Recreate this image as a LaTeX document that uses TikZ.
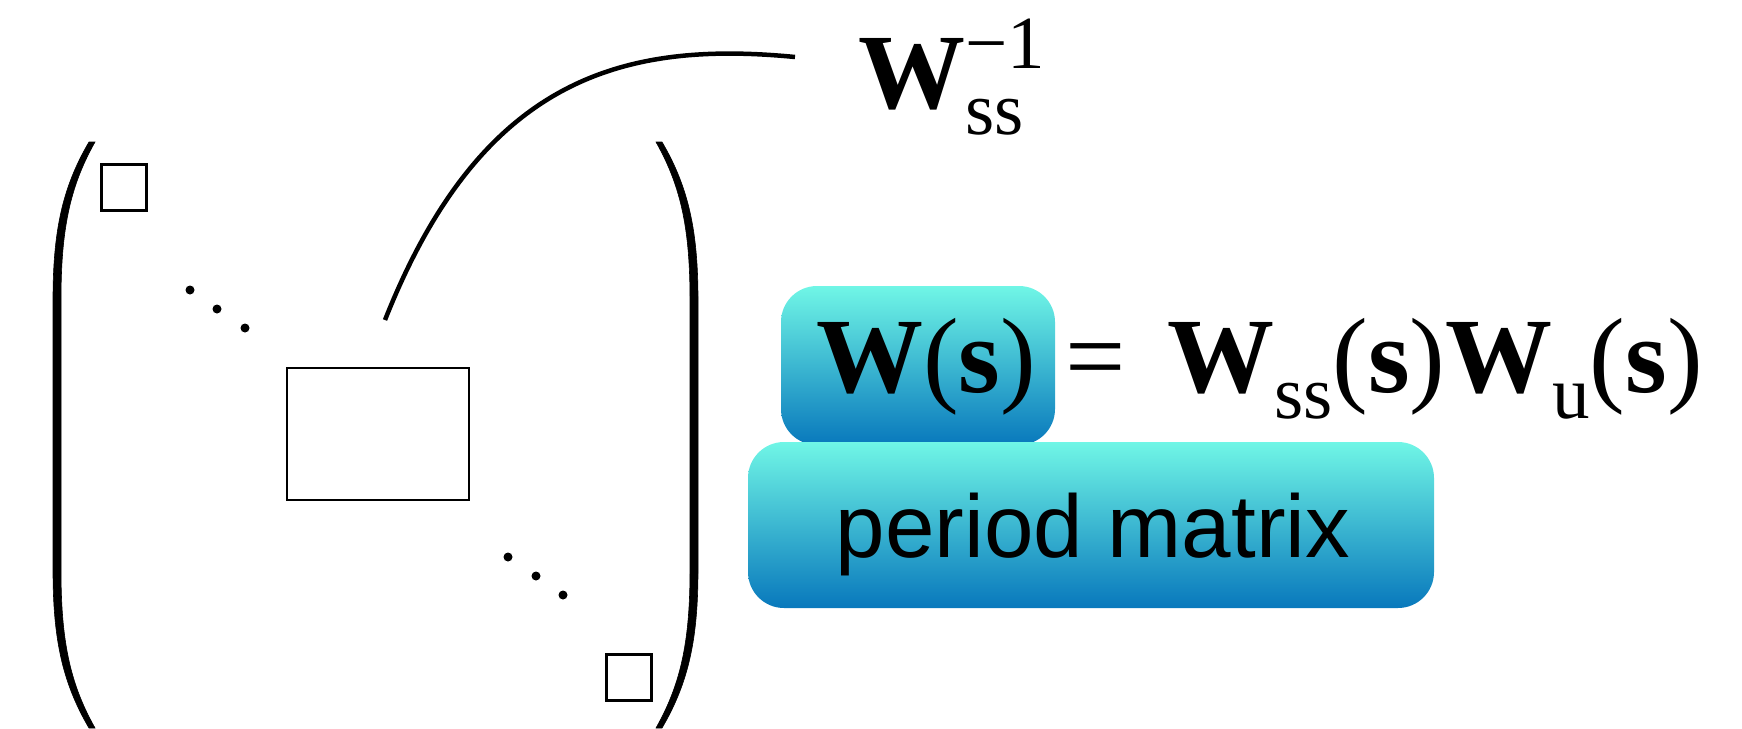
\documentclass[tikz,border=0pt]{standalone}
\usepackage{fontspec}
\setmainfont{Liberation Serif}
\newfontfamily\sansf{Liberation Sans}
\definecolor{boxtop}{RGB}{112,246,230}
\definecolor{boxbot}{RGB}{8,120,188}
\newcommand\Wb{\textbf{W}}
\newcommand\Bs{\textbf{s}}
\newcommand\mysub[1]{\raisebox{-26pt}{\fontsize{75}{75}\selectfont #1}}
\newcommand\mysupr[1]{\rlap{\raisebox{40pt}{\fontsize{75}{75}\selectfont #1}}}
\begin{document}
\begin{tikzpicture}[x=1pt,y=-1pt,
  paren/.style={fill=black, draw=black, line width=0.6pt},
  conn/.style={line width=4.5pt},
  sqbox/.style={line width=3pt},
  midbox/.style={line width=2.5pt},
  dotc/.style={fill=black},
  cbox/.style={rounded corners=36pt, top color=boxtop, bottom color=boxbot, draw=none, inner sep=0pt},
  eq/.style={inner sep=0pt, anchor=base west, font=\fontsize{107}{110}\selectfont},
  lab/.style={inner sep=0pt, anchor=base, font=\sansf\fontsize{89}{90}\selectfont}]
\useasboundingbox (0,0) rectangle (1742,728);
% matrix brackets (thicker in the middle)
\path[paren] (89,142) .. controls (62,188) and (53,232) .. (53,300) -- (53,570)
  .. controls (53,638) and (62,682) .. (89,728) -- (95,728)
  .. controls (69,682) and (61,638) .. (61,570) -- (61,300)
  .. controls (61,232) and (69,188) .. (95,142) -- cycle;
\path[paren] (662,142) .. controls (689,188) and (698,232) .. (698,300) -- (698,570)
  .. controls (698,638) and (689,682) .. (662,728) -- (656,728)
  .. controls (682,682) and (690,638) .. (690,570) -- (690,300)
  .. controls (690,232) and (682,188) .. (656,142) -- cycle;
% blocks
\draw[sqbox] (101,164) rectangle (146,210);
\draw[sqbox] (606,654) rectangle (651,700);
\draw[midbox] (287,368) rectangle (469,500);
% dots
\foreach \p in {(190,290),(217,309),(245,328),(508,557),(536,576),(563,595)}
  \fill[dotc] \p circle (4.5);
% connector
\coordinate (cs) at (385,320);
\coordinate (ce) at (795,57);
\draw[conn] (cs) .. controls (480,80) and (620,40) .. (ce);
% label
\node[eq] (wlab) at (858,108) {\Wb\mysupr{−1}\mysub{ss}};
% boxes
\node[cbox, minimum width=274pt, minimum height=159pt] (topbox) at (918,365.5) {};
\node[cbox, minimum width=686pt, minimum height=166pt] (botbox) at (1091,525) {};
\node[lab] (pm) at (1093,557) {period matrix};
% equation
\node[eq] (lhs) at (816,392) {\Wb(\Bs)};
\node[eq] (eqs) at (1065,392) {=};
\node[eq] (rhs) at (1167,392) {\Wb\mysub{ss}(\Bs)\Wb\mysub{u}(\Bs)};
\end{tikzpicture}
\end{document}
